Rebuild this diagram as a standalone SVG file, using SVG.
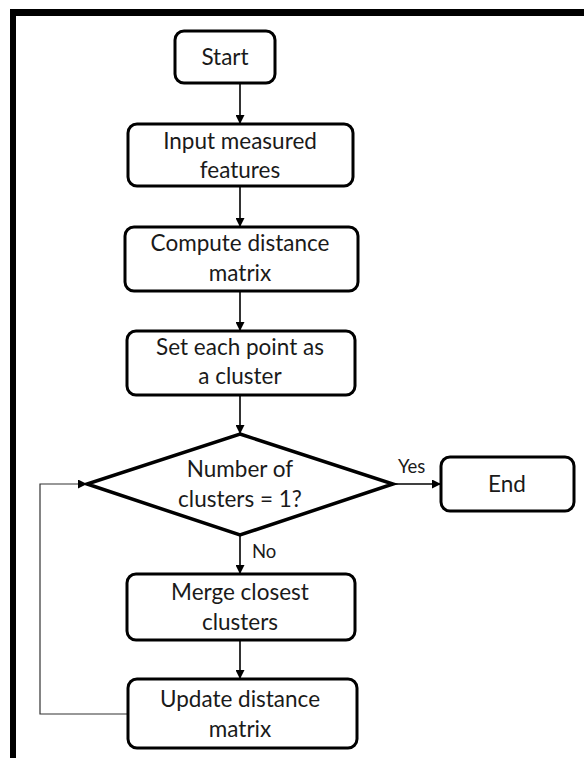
<svg xmlns="http://www.w3.org/2000/svg" width="584" height="758" viewBox="0 0 584 758">
  <style>
    .box { fill: #fff; stroke: #000; stroke-width: 3; }
    .dec { fill: #fff; stroke: #000; stroke-width: 3.5; stroke-linejoin: miter; }
    .lbl { font-family: Lato, "Liberation Sans", sans-serif; font-size: 22.5px; fill: #1a1a1a; text-anchor: middle; }
    .tag { font-family: Lato, "Liberation Sans", sans-serif; font-size: 18.5px; fill: #1a1a1a; }
    .edge { fill: none; stroke: #000; stroke-width: 1.6; }
    .loop { fill: none; stroke: #333; stroke-width: 1.2; }
  </style>
  <defs>
    <marker id="head" viewBox="0 0 10 10" refX="10" refY="5" markerWidth="9" markerHeight="9" markerUnits="userSpaceOnUse" orient="auto">
      <path d="M0,0 L10,5 L0,10 Z" fill="#000"/>
    </marker>
  </defs>

  <rect width="584" height="758" fill="#fff"/>
  <!-- frame along top and left -->
  <rect x="10" y="9" width="574" height="7" fill="#000"/>
  <rect x="10" y="9" width="6" height="749" fill="#000"/>

  <g id="connectors">
    <line class="edge" x1="240" y1="83" x2="240" y2="124" marker-end="url(#head)"/>
    <line class="edge" x1="240" y1="186" x2="240" y2="227" marker-end="url(#head)"/>
    <line class="edge" x1="240" y1="291" x2="240" y2="331" marker-end="url(#head)"/>
    <line class="edge" x1="240" y1="395" x2="240" y2="434" marker-end="url(#head)"/>
    <line class="edge" x1="393" y1="484" x2="441" y2="484" marker-end="url(#head)"/>
    <line class="edge" x1="240" y1="535" x2="240" y2="574" marker-end="url(#head)"/>
    <line class="edge" x1="240" y1="640" x2="240" y2="679" marker-end="url(#head)"/>
    <polyline class="loop" points="127,714 40,714 40,484 87,484" marker-end="url(#head)"/>
    <text class="tag" x="398" y="473">Yes</text>
    <text class="tag" x="252" y="558">No</text>
  </g>

  <g id="start">
    <rect class="box" x="175" y="31" width="100" height="52" rx="9"/>
    <text class="lbl" x="225" y="65">Start</text>
  </g>

  <g id="input">
    <rect class="box" x="128" y="124" width="225" height="62" rx="9"/>
    <text class="lbl" x="240" y="149">Input measured</text>
    <text class="lbl" x="240" y="178">features</text>
  </g>

  <g id="compute">
    <rect class="box" x="125" y="227" width="233" height="64" rx="9"/>
    <text class="lbl" x="240" y="251">Compute distance</text>
    <text class="lbl" x="240" y="281">matrix</text>
  </g>

  <g id="init">
    <rect class="box" x="127" y="331" width="228" height="64" rx="9"/>
    <text class="lbl" x="240" y="355">Set each point as</text>
    <text class="lbl" x="240" y="384">a cluster</text>
  </g>

  <g id="check">
    <polygon class="dec" points="240,434 393,484 240,535 87,484"/>
    <text class="lbl" x="240" y="477">Number of</text>
    <text class="lbl" x="240" y="507">clusters = 1?</text>
  </g>

  <g id="end">
    <rect class="box" x="441" y="457" width="133" height="54" rx="9"/>
    <text class="lbl" x="507" y="492">End</text>
  </g>

  <g id="merge">
    <rect class="box" x="127" y="574" width="228" height="66" rx="9"/>
    <text class="lbl" x="240" y="600">Merge closest</text>
    <text class="lbl" x="240" y="630">clusters</text>
  </g>

  <g id="update">
    <rect class="box" x="128" y="679" width="229" height="69" rx="9"/>
    <text class="lbl" x="240" y="707">Update distance</text>
    <text class="lbl" x="240" y="737">matrix</text>
  </g>
</svg>
